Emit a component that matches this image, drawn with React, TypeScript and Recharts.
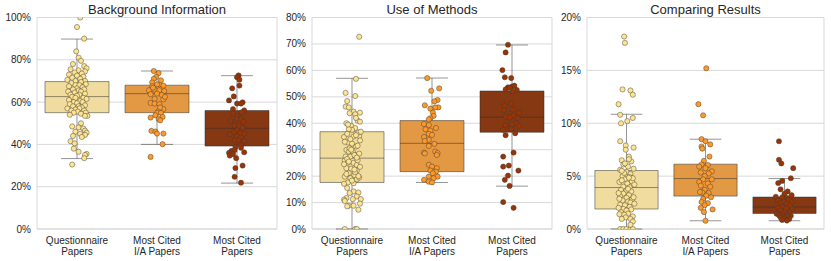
import React from 'react';
import { ComposedChart, XAxis, YAxis, CartesianGrid, Scatter, ReferenceArea, ReferenceLine } from 'recharts';

const CATEGORIES: string[][] = [
  ['Questionnaire', 'Papers'],
  ['Most Cited', 'I/A Papers'],
  ['Most Cited', 'Papers'],
];
const POINT_COLORS = ['#fee391', '#fe9929', '#993404'];
const BOX_COLORS = ['#f0dc9f', '#e39844', '#863813'];

const TITLES = ['Background Information', 'Use of Methods', 'Comparing Results'];
const BG_TICKS = [0, 20, 40, 60, 80, 100];
const UM_TICKS = [0, 10, 20, 30, 40, 50, 60, 70, 80];
const CR_TICKS = [0, 5, 10, 15, 20];

// box stats per category: [whiskerLow, q1, median, q3, whiskerHigh] (percent)
const bgStats = [
  [33.3, 55, 62.6, 69.7, 89.8],
  [40, 55, 64, 68, 74.7],
  [21.7, 39.2, 47.6, 56, 72.5],
];
const umStats = [
  [0, 17.6, 26.8, 36.8, 57],
  [17.6, 21.7, 32.4, 41, 57.1],
  [16.2, 36.6, 42.3, 52.2, 69.6],
];
const crStats = [
  [0, 1.89, 3.92, 5.53, 10.85],
  [0.78, 3.11, 4.77, 6.13, 8.49],
  [0.78, 1.47, 2.08, 3.02, 4.77],
];

// strip points: [jitter offset (category units), value (percent)]
const bgQuestionnaire = [
  [0.04, 100], [0.0, 95.5], [0.09, 90], [-0.01, 84], [0.02, 81], [0.05, 79.5], [-0.05, 78], [0.09, 77], [0.12, 76],
  [-0.08, 75.5], [0.02, 75], [0.1, 74.5], [-0.03, 74], [0.06, 73.5], [-0.1, 73], [0.0, 72.5], [0.08, 72], [-0.06, 71.5],
  [0.04, 71], [-0.12, 70.5], [0.1, 70], [-0.02, 70],
  [0.05, 69.5], [-0.07, 69], [0.11, 68.5], [-0.02, 68], [0.03, 68], [-0.1, 67.5], [0.07, 67], [0.0, 66.5], [-0.05, 66],
  [0.09, 66], [0.02, 65.5], [-0.11, 65], [0.05, 65], [-0.03, 64.5], [0.1, 64], [-0.08, 63.5], [0.03, 63.5], [0.0, 63],
  [-0.06, 62.5], [0.08, 62], [-0.02, 62], [0.12, 61.5], [-0.1, 61], [0.04, 60.5], [-0.04, 60], [0.07, 60], [0.0, 59.5],
  [-0.09, 59], [0.1, 58.5], [0.02, 58], [-0.05, 58], [0.06, 57.5], [-0.12, 57], [0.03, 57], [-0.02, 56.5], [0.09, 56],
  [-0.07, 56], [0.01, 55.5], [0.11, 55], [-0.04, 55], [0.05, 54.5], [-0.09, 54], [0.13, 53.5], [0.1, 53.5],
  [0.05, 50], [-0.06, 48.5], [0.02, 48], [0.08, 47.5], [0.1, 46.5], [-0.02, 46], [0.12, 45.5], [0.04, 45], [0.1, 44.5],
  [-0.05, 44], [0.06, 43.5], [-0.08, 41.5], [-0.03, 40.5], [-0.04, 38], [0.02, 36.5], [0.12, 35.5], [0.1, 35],
  [0.09, 33.5], [-0.06, 30.5],
];
const bgMostCitedIA = [
  [-0.04, 74.7], [0.02, 73.7], [-0.01, 71.9], [-0.04, 71], [-0.06, 69.3], [0.03, 68.4], [0.08, 67.8], [0, 68.4],
  [-0.06, 67.5], [-0.1, 65.6], [-0.03, 65.9], [0.03, 65.6], [0.09, 65.2], [-0.08, 63.7], [0, 64], [0.06, 63.4],
  [-0.03, 61.5], [0.08, 61.3], [-0.08, 59.6], [-0.03, 59.3], [0.03, 59], [0.08, 56.7], [0.02, 55.8], [0, 54.9],
  [0.05, 54.9], [-0.02, 53.8], [0.07, 53], [0.02, 52], [-0.08, 52.7], [0.04, 51.4], [-0.07, 46.4], [-0.02, 46.1],
  [0, 45.1], [0.08, 45.1], [0.07, 40.1], [-0.08, 34.1], [0.05, 70.3], [-0.05, 66.8], [0.1, 62.5], [0.04, 57.5],
];
const bgMostCited = [
  [0.02, 72.6], [0, 71.8], [0.03, 70.6], [-0.06, 66.5], [0.03, 67.8], [-0.04, 62.7], [-0.1, 60.8], [0, 59.3],
  [0.07, 59.9], [0.05, 59.3], [-0.05, 56.7], [0.09, 56.1], [0.06, 55.2], [0, 53.3], [-0.05, 54.6], [0, 52],
  [0.05, 52], [0.08, 50.8], [-0.08, 51.1], [-0.03, 49], [0.03, 48.6], [0.07, 48], [0, 46.7], [-0.04, 45.9],
  [0.04, 45.4], [0.09, 45.1], [-0.09, 44.7], [0, 43.9], [0.05, 43.3], [0.02, 42], [-0.03, 42], [0.09, 41.5],
  [0.05, 39.6], [-0.02, 38.8], [0.05, 38.4], [-0.07, 36.9], [-0.1, 36], [-0.06, 36.3], [-0.03, 37.3], [-0.09, 34.7],
  [-0.05, 35.4], [-0.01, 33.5], [0.09, 36.3], [0.07, 30], [-0.02, 28.8], [-0.03, 24.7], [0.05, 21.9],
];

const umQuestionnaire = [
  [0.09, 72.7], [0.05, 56.8], [0.04, 50.3], [-0.08, 51.5], [-0.06, 48.4], [-0.08, 46.3], [-0.04, 46], [0.02, 44.4],
  [0.04, 43.4], [-0.03, 43.8], [0.07, 41], [0.1, 40.6], [-0.07, 40], [-0.01, 39], [0.04, 38.2], [0, 37.5],
  [-0.04, 37.8], [0.09, 35.2], [0.02, 35], [-0.1, 34.8], [-0.05, 32.7], [0, 32.3], [0.05, 31.2], [-0.07, 29.9],
  [-0.04, 29.3], [0.01, 29.2], [0.04, 27.9], [-0.08, 27.4], [-0.02, 27.4], [-0.09, 25.9], [-0.05, 25.1], [0.02, 25],
  [0.06, 24.2], [-0.07, 23], [-0.01, 22.8], [0.06, 22.1], [-0.04, 21.1], [0.03, 20.4], [-0.09, 19.8], [-0.02, 19.2],
  [0.06, 18.8], [-0.05, 17.6], [-0.1, 17.1], [0.02, 17.3], [-0.06, 15.5], [0.02, 14.2], [-0.03, 13.6], [0.08, 13.8],
  [0.06, 12.3], [-0.07, 11.7], [0.01, 11.3], [0.11, 11.3], [-0.1, 11.1], [-0.09, 10.6], [-0.04, 8.8], [0.02, 8.8],
  [0.1, 9.6], [-0.06, 8.6], [0.08, 7.3], [-0.09, 0], [0.04, 0], [0.06, 0],
  [0.08, 36.5], [-0.06, 36], [0.05, 35.5], [-0.02, 34], [0.1, 33.5], [-0.09, 33], [0.07, 31.5], [-0.03, 30.5],
  [0.09, 28.5], [0.03, 28], [-0.06, 26.5], [0.07, 26], [-0.1, 24.5], [0.1, 23.5], [0.04, 21.5], [-0.07, 20.8],
  [0.09, 19.5], [0.0, 18.3], [0.11, 36.8], [-0.01, 30], [0.06, 27], [-0.04, 25.5], [0.03, 22.5], [0.08, 20],
  [0.05, 42], [-0.05, 39.5], [0.1, 44],
];
const umMostCitedIA = [
  [-0.06, 57.1], [-0.01, 52.3], [0.09, 53.2], [0.07, 48.8], [0.03, 48.3], [-0.09, 46.8], [0.08, 46], [0.04, 46],
  [-0.02, 45.5], [0.01, 44], [0.02, 42.8], [-0.02, 41.9], [-0.04, 41.5], [-0.1, 39.7], [-0.04, 39.3], [0.05, 38.2],
  [-0.08, 37.7], [-0.02, 37.2], [-0.04, 36], [0, 35.6], [-0.1, 34.8], [-0.04, 33.7], [-0.09, 33.3], [0.03, 32.2],
  [-0.04, 31.4], [-0.1, 28.9], [0.04, 29.3], [0.07, 28.7], [-0.09, 28.6], [0.06, 28], [-0.04, 24.3], [0, 23.6],
  [0.06, 23], [-0.02, 22.1], [0.05, 21.7], [0.01, 21.1], [0.07, 19.8], [-0.04, 19.8], [0.02, 19.2], [-0.1, 18.6],
  [-0.04, 17.9], [0, 17.6],
];
const umMostCited = [
  [-0.05, 69.7], [-0.08, 66.8], [-0.12, 60.1], [-0.09, 57.4], [-0.01, 57.1], [-0.05, 53.6], [0, 53.9], [-0.08, 52.8],
  [0.06, 52.6], [0.01, 52], [0.03, 54.2], [-0.03, 53.4], [-0.11, 47.5], [-0.01, 47.5], [-0.09, 46.5], [-0.1, 45],
  [0.01, 45.2], [0.09, 44], [0.02, 42.9], [-0.08, 42.5], [-0.03, 42.2], [0.07, 41.9], [0.05, 40], [0, 39.6],
  [-0.08, 39.3], [0.09, 39], [-0.01, 37.9], [-0.11, 37.5], [0.04, 36.2], [-0.08, 35.5], [-0.11, 27.4], [0.02, 28.9],
  [-0.11, 23.6], [-0.04, 24], [0.08, 22.1], [-0.09, 18.6], [-0.05, 20.2], [-0.03, 16.3], [-0.11, 10.2], [0.02, 8],
];

const crQuestionnaire = [
  [-0.03, 18.2], [-0.02, 17.6], [-0.05, 13.2], [0.05, 13.1], [0.08, 12.7], [-0.1, 11.8], [-0.08, 10.8], [0.08, 10.5],
  [0.01, 10.2], [-0.07, 10], [-0.08, 8.3], [0.09, 7.7], [-0.01, 7.9], [-0.01, 7.5], [0.03, 6.85], [-0.06, 6.5],
  [0.06, 6.4], [-0.04, 6.1], [0.02, 5.9], [-0.08, 5.6], [0, 5.4], [0.05, 5.2], [-0.05, 5.0], [0.04, 4.9], [-0.02, 4.7],
  [0.07, 4.5], [-0.09, 4.45], [0.01, 4.3], [-0.04, 4.0], [0.04, 3.95], [-0.07, 3.7], [0, 3.65], [0.06, 3.55],
  [-0.04, 3.35], [0.03, 3.2], [-0.08, 3.1], [0, 2.95], [0.07, 2.8], [-0.05, 2.7], [0.02, 2.6], [0.05, 2.5],
  [-0.08, 2.3], [-0.02, 2.25], [0.04, 2.1], [-0.04, 1.9], [0.06, 1.85], [0, 1.75], [-0.07, 1.6], [0.02, 1.45],
  [-0.03, 1.35], [0.08, 1.2], [-0.09, 1.4], [-0.01, 1.1], [0.05, 0.95], [0.08, 0.7], [-0.06, 0.95], [-0.08, 0],
  [-0.04, 0], [0, 0], [0.05, 0], [0.08, 0],
  [0.09, 5.7], [-0.03, 5.3], [0.08, 4.8], [-0.06, 4.6], [0.1, 4.2], [0.02, 3.8], [-0.1, 3.4], [0.09, 3.0],
  [0.1, 2.4], [-0.1, 2.0], [-0.06, 5.5], [0.03, 4.85], [0.05, 0.4], [-0.02, 6.2], [0.03, 6.6], [-0.09, 2.85],
];
const crMostCitedIA = [
  [0.01, 15.2], [-0.09, 11.8], [-0.03, 10.75], [-0.05, 8.5], [0, 8.3], [0.06, 8.0], [-0.05, 7.8], [-0.04, 7.6],
  [0.05, 6.85], [-0.02, 6.45], [-0.05, 6.1], [0.03, 6.05], [-0.08, 5.9], [0, 5.75], [0.08, 5.45], [-0.06, 5.35],
  [0.04, 5.25], [-0.01, 5.0], [-0.03, 4.7], [0.08, 4.7], [-0.08, 4.45], [0.03, 4.3], [-0.06, 4.1], [0.06, 4.0],
  [-0.01, 3.7], [-0.04, 3.45], [0.04, 3.4], [-0.07, 3.5], [0.01, 3.15], [0.07, 3.0], [-0.03, 2.85], [-0.05, 2.55],
  [0.03, 2.45], [-0.01, 2.25], [-0.06, 2.0], [0.09, 1.85], [-0.02, 1.6], [0, 0.78],
];
const crMostCited = [
  [-0.07, 8.3], [-0.07, 6.55], [-0.04, 6.2], [0.11, 5.75], [0.08, 4.8], [-0.03, 4.55], [-0.08, 4.35], [0.04, 3.55],
  [-0.05, 3.75], [0, 3.35], [0.09, 3.2], [-0.11, 3.05], [-0.03, 3.0], [0.03, 2.95], [0.05, 2.75], [-0.08, 2.7],
  [-0.01, 2.6], [0.09, 2.55], [-0.05, 2.45], [0.03, 2.4], [-0.1, 2.25], [0.07, 2.2], [-0.03, 2.1], [-0.08, 2.0],
  [0.02, 1.95], [0.1, 1.9], [-0.05, 1.75], [0, 1.6], [0.06, 1.55], [-0.1, 1.45], [-0.03, 1.4], [0.03, 1.35],
  [-0.07, 1.3], [0.08, 1.25], [-0.01, 1.2], [0.04, 1.15], [-0.05, 1.1], [0, 1.0], [0.06, 0.95], [-0.03, 0.85],
  [0.03, 0.8],
];

const TEXT = '#262626';
const LINE = '#2e2e2e';
const LINE_OP = 0.5;
const GRID = '#d9d9d9';

const CatTick = (props: any) => {
  const { x, y, payload } = props;
  const lines = CATEGORIES[payload.value] || ['', ''];
  return (
    <g>
      <text x={x} y={y + 13.2} textAnchor="middle" fontSize={10} fill={TEXT}>{lines[0]}</text>
      <text x={x} y={y + 24.2} textAnchor="middle" fontSize={10} fill={TEXT}>{lines[1]}</text>
    </g>
  );
};

type PanelProps = {
  left: number;
  width: number;
  rightMargin: number;
  title: string;
  ticks: number[];
  stats: number[][];
  groups: number[][][];
};

const Panel = ({ left, width, rightMargin, title, ticks, stats, groups }: PanelProps) => {
  const yMax = ticks[ticks.length - 1];
  const plotLeft = left + 37;
  const plotWidth = width - 37 - rightMargin;
  return (
    <>
      <div
        style={{
          position: 'absolute', left: plotLeft, width: plotWidth, top: 2, textAlign: 'center',
          fontSize: 13, lineHeight: '15px', color: TEXT, whiteSpace: 'nowrap',
        }}
      >
        {title}
      </div>
      <div style={{ position: 'absolute', left, top: 0 }}>
        <ComposedChart width={width} height={261} margin={{ top: 17.5, right: rightMargin, bottom: 0, left: 0 }}>
          <CartesianGrid vertical={false} stroke={GRID} strokeWidth={1} />
          <XAxis
            type="number" dataKey="x" domain={[-0.5, 2.5]} ticks={[0, 1, 2]} interval={0}
            axisLine={false} tickLine={false} tickSize={0} height={32} tick={<CatTick />}
            allowDataOverflow
          />
          <YAxis
            type="number" domain={[0, yMax]} ticks={ticks} interval={0} width={37}
            axisLine={false} tickLine={false} tickSize={0} tickMargin={6}
            tick={{ fontSize: 10, fill: TEXT }} tickFormatter={(v: number) => `${v}%`}
            allowDataOverflow
          />
          <ReferenceArea x1={-0.5} x2={2.5} y1={0} y2={yMax} fill="none" fillOpacity={0} stroke={GRID} strokeWidth={1} />
          {stats.map((s, i) => (
            <ReferenceArea
              key={`box${i}`} x1={i - 0.4} x2={i + 0.4} y1={s[1]} y2={s[3]}
              fill={BOX_COLORS[i]} fillOpacity={1} stroke={LINE} strokeOpacity={LINE_OP} strokeWidth={1}
            />
          ))}
          {stats.map((s, i) => (
            <ReferenceLine key={`med${i}`} segment={[{ x: i - 0.4, y: s[2] }, { x: i + 0.4, y: s[2] }]}
              stroke={LINE} strokeOpacity={LINE_OP} strokeWidth={1} />
          ))}
          {stats.map((s, i) => (
            <ReferenceLine key={`wh${i}`} segment={[{ x: i, y: s[3] }, { x: i, y: s[4] }]}
              stroke={LINE} strokeOpacity={LINE_OP} strokeWidth={1} />
          ))}
          {stats.map((s, i) => (
            <ReferenceLine key={`wl${i}`} segment={[{ x: i, y: s[0] }, { x: i, y: s[1] }]}
              stroke={LINE} strokeOpacity={LINE_OP} strokeWidth={1} />
          ))}
          {stats.map((s, i) => (
            <ReferenceLine key={`ch${i}`} segment={[{ x: i - 0.2, y: s[4] }, { x: i + 0.2, y: s[4] }]}
              stroke={LINE} strokeOpacity={LINE_OP} strokeWidth={1} />
          ))}
          {stats.map((s, i) => (
            <ReferenceLine key={`cl${i}`} segment={[{ x: i - 0.2, y: s[0] }, { x: i + 0.2, y: s[0] }]}
              stroke={LINE} strokeOpacity={LINE_OP} strokeWidth={1} />
          ))}
          {groups.map((g, i) => (
            <Scatter
              key={`pts${i}`}
              data={g.map(([o, v]) => ({ x: i + o, y: v }))}
              dataKey="y"
              isAnimationActive={false}
              shape={(p: any) => (
                <circle cx={p.cx} cy={p.cy} r={2.6} fill={POINT_COLORS[i]} stroke="#3a3a3a" strokeOpacity={0.75} strokeWidth={0.6} />
              )}
            />
          ))}
        </ComposedChart>
      </div>
    </>
  );
};

export default function App() {
  return (
    <div
      style={{
        position: 'absolute', left: 0, top: 0, width: 831, height: 261, background: '#fff',
        fontFamily: '"Liberation Sans", Arial, Helvetica, sans-serif', overflow: 'hidden',
      }}
    >
      <Panel left={0} width={280} rightMargin={3} title={TITLES[0]} ticks={BG_TICKS} stats={bgStats}
        groups={[bgQuestionnaire, bgMostCitedIA, bgMostCited]} />
      <Panel left={275} width={280} rightMargin={3} title={TITLES[1]} ticks={UM_TICKS} stats={umStats}
        groups={[umQuestionnaire, umMostCitedIA, umMostCited]} />
      <Panel left={550} width={280} rightMargin={6} title={TITLES[2]} ticks={CR_TICKS} stats={crStats}
        groups={[crQuestionnaire, crMostCitedIA, crMostCited]} />
    </div>
  );
}
